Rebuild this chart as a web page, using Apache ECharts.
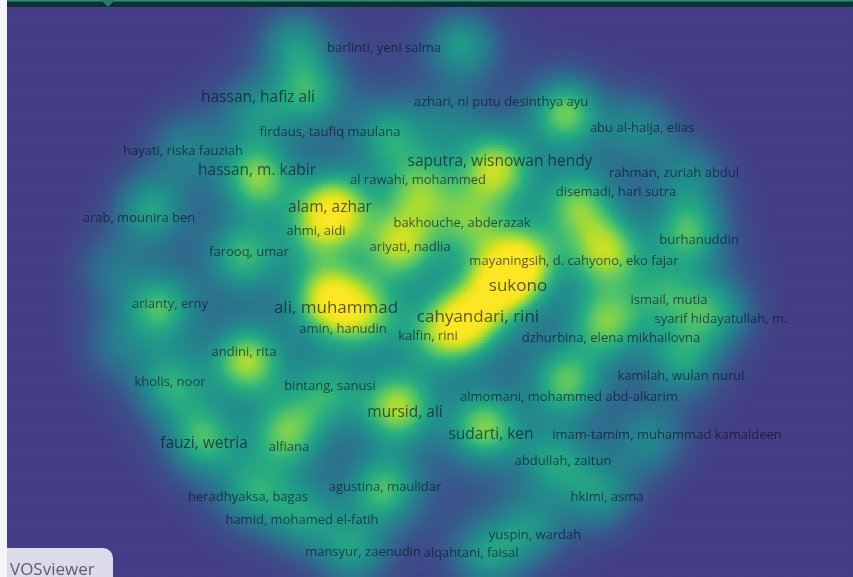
<!DOCTYPE html>
<html><head><meta charset="utf-8">
<script src="https://cdn.jsdelivr.net/npm/echarts@6/dist/echarts.min.js"></script>
<style>html,body{margin:0;padding:0;background:#fff;overflow:hidden}#c{width:853px;height:577px}</style>
</head><body><div id="c"></div>
<script>
// ---- label items (VOSviewer author map) ----
const labelNames = [
 "barlinti, yeni salma","hassan, hafiz ali","azhari, ni putu desinthya ayu","abu al-haija, elias",
 "firdaus, taufiq maulana","hayati, riska fauziah","saputra, wisnowan hendy","hassan, m. kabir",
 "rahman, zuriah abdul","al rawahi, mohammed","disemadi, hari sutra","arab, mounira ben",
 "alam, azhar","bakhouche, abderazak","ahmi, aidi","burhanuddin","ariyati, nadlia","farooq, umar",
 "mayaningsih, d. cahyono, eko fajar","sukono","arianty, erny","ali, muhammad","ismail, mutia",
 "cahyandari, rini","syarif hidayatullah, m.","amin, hanudin","kalfin, rini","dzhurbina, elena mikhailovna",
 "andini, rita","kholis, noor","bintang, sanusi","kamilah, wulan nurul","almomani, mohammed abd-alkarim",
 "mursid, ali","sudarti, ken","imam-tamim, muhammad kamaldeen","fauzi, wetria","alfiana",
 "abdullah, zaitun","agustina, maulidar","heradhyaksa, bagas","hkimi, asma","hamid, mohamed el-fatih",
 "yuspin, wardah","mansyur, zaenudin","alqahtani, faisal"
];
const labelX = [384,258,501,642,330,183,500,257,674,418,616,139,330,462,316,699,410,249,574,518,170,336,669,478,721,343,428,611,244,170,330,681,569,405,491,667,204,289,563,385,248,607,302,535,363,471];
const labelY = [48,98,102,128,132,151,162,171,173,180,192,218,208,223,231,240,247,252,261,286,304,308,300,317,319,329,336,338,352,382,386,376,397,413,435,435,444,447,461,487,497,497,520,535,552,553];
// weight class of each label: 1 small, 2 medium, 3 large
const labelClass = [1,2,1,1,1,1,2,2,1,1,1,1,2,1,1,1,1,1,1,3,1,3,1,3,1,1,1,1,1,1,1,1,1,2,2,1,2,1,1,1,1,1,1,1,1,1];

// ---- density items (x, y, weight) ----
const densityX = [505,525,468,438,328,365,335,315,497,566,257,247,398,485,607,160,690,715,607,567,287,203,385,400,578,310,255,295,462,390,640,170,327,683,650,555,600,530,487,353,303,253,243,150,185,690,420,470,665,110,115,450];
const densityY = [282,258,320,338,300,315,208,235,168,113,178,362,408,428,252,308,232,312,323,383,434,440,490,245,203,92,112,42,45,135,128,385,393,360,440,462,495,530,557,552,517,492,256,210,148,175,190,222,295,270,345,125];
const densityW = [1.0,0.7,0.95,0.55,1.0,0.7,1.0,0.45,0.95,0.95,0.9,0.95,0.95,0.9,0.9,0.8,0.8,0.7,0.8,0.8,0.8,0.8,0.8,0.85,0.75,0.7,0.5,0.6,0.7,0.6,0.5,0.7,0.55,0.65,0.5,0.6,0.6,0.55,0.65,0.65,0.6,0.65,0.7,0.7,0.45,0.45,0.7,0.6,0.55,0.35,0.35,0.3];

const fontSizes = {1: 13, 2: 15.5, 3: 17};
// colour ramp stops: [density value, colour]
const rampStops = [[0.00,'#453f87'],[0.12,'#443f86'],[0.32,'#3b528b'],[0.56,'#2c728e'],[0.82,'#21918c'],[1.02,'#27ad81'],[1.20,'#5ec962'],[1.36,'#aadc32'],[1.52,'#e8e41e'],[1.68,'#fde725']];
const densityMin = 0, densityMax = 1.68;

function hexRgb(h) { return [1, 3, 5].map(o => parseInt(h.substr(o, 2), 16)); }
const densityColors = [];
for (let n = 0; n <= 84; n++) {
  const v = densityMin + (densityMax - densityMin) * n / 84;
  let s = 0;
  while (s < rampStops.length - 2 && v > rampStops[s + 1][0]) s++;
  const [v0, c0] = rampStops[s], [v1, c1] = rampStops[s + 1];
  const u = Math.min(1, Math.max(0, (v - v0) / (v1 - v0)));
  const a = hexRgb(c0), b = hexRgb(c1);
  densityColors.push('rgb(' + a.map((q, k) => Math.round(q + (b[k] - q) * u)).join(',') + ')');
}

const CELL = 3, X0 = 7, Y0 = 7, W = 282, H = 190;
const S1 = 26, S2 = 80, BASE = 0.08;
const heat = [];
for (let j = 0; j < H; j++) {
  for (let i = 0; i < W; i++) {
    const px = X0 + i * CELL + 1.5, py = Y0 + j * CELL + 1.5;
    let d = 0;
    for (let k = 0; k < densityX.length; k++) {
      const dx = px - densityX[k], dy = py - densityY[k];
      const r2 = dx * dx + dy * dy;
      d += densityW[k] * (Math.exp(-r2 / (2 * S1 * S1)) + BASE * Math.exp(-r2 / (2 * S2 * S2)));
    }
    heat.push([i, j, d]);
  }
}
const xCats = Array.from({length: W}, (_, i) => i);
const yCats = Array.from({length: H}, (_, j) => j);

const labelData = labelNames.map((n, i) => ({
  name: n, value: [labelX[i], labelY[i]],
  label: {fontSize: fontSizes[labelClass[i]]}
}));

const chart = echarts.init(document.getElementById('c'), null, {renderer: 'canvas'});
chart.setOption({
  animation: false,
  backgroundColor: '#ffffff',
  grid: [
    {left: X0, top: Y0, width: W * CELL, height: H * CELL, containLabel: false, outerBoundsMode: 'none'},
    {left: 0, top: 0, width: 853, height: 577, containLabel: false, outerBoundsMode: 'none'}
  ],
  xAxis: [
    {type: 'category', data: xCats, gridIndex: 0, show: false, boundaryGap: true},
    {type: 'value', min: 0, max: 853, gridIndex: 1, show: false}
  ],
  yAxis: [
    {type: 'category', data: yCats, gridIndex: 0, show: false, inverse: true, boundaryGap: true},
    {type: 'value', min: 0, max: 577, gridIndex: 1, show: false, inverse: true}
  ],
  visualMap: {
    show: false, type: 'continuous', seriesIndex: 0,
    min: densityMin, max: densityMax,
    inRange: {color: densityColors}
  },
  series: [
    {
      type: 'heatmap', xAxisIndex: 0, yAxisIndex: 0, data: heat,
      progressive: 0, silent: true, itemStyle: {borderWidth: 0}
    },
    {
      type: 'scatter', xAxisIndex: 1, yAxisIndex: 1, data: labelData,
      symbol: 'circle', symbolSize: 1, silent: true,
      itemStyle: {color: 'rgba(0,0,0,0)'},
      label: {
        show: true, position: 'inside', formatter: '{b}',
        fontFamily: 'Open Sans', color: 'rgba(12,18,40,0.85)'
      },
      z: 5
    }
  ],
  graphic: [
    {type: 'rect', left: 0, top: 0, shape: {width: 7, height: 577}, style: {fill: '#f4f4f8'}, z: 10},
    {type: 'rect', left: 7, top: 0, shape: {width: 846, height: 7}, style: {fill: '#0b3431'}, z: 10},
    {type: 'rect', left: 7, top: 0, shape: {width: 846, height: 1.5}, style: {fill: '#2a8c76'}, z: 11},
    {type: 'polygon', shape: {points: [[101, 0], [115, 0], [108, 7]]}, style: {fill: '#2c7a68'}, z: 11},
    {type: 'rect', shape: {x: 7, y: 548, width: 106, height: 29, r: [0, 10, 0, 0]}, style: {fill: '#dcdbe9'}, z: 10},
    {type: 'text', style: {x: 10, y: 570, text: 'VOSviewer', fill: '#5c5c6e', font: '17px "Open Sans"', verticalAlign: 'middle'}, z: 11}
  ]
});
</script>
</body></html>
